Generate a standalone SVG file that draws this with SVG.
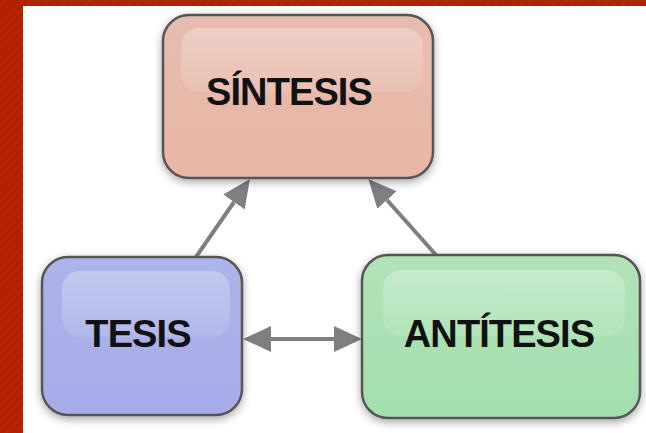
<svg xmlns="http://www.w3.org/2000/svg" width="646" height="433" viewBox="0 0 646 433">
  <defs>
    <pattern id="stripes" width="6" height="6" patternUnits="userSpaceOnUse" patternTransform="rotate(45)">
      <rect width="6" height="6" fill="#b82300"/>
      <rect width="3" height="6" fill="#ac2000"/>
    </pattern>
    <filter id="shadow" x="-15%" y="-15%" width="130%" height="135%">
      <feDropShadow dx="0" dy="3" stdDeviation="4" flood-color="#000" flood-opacity="0.35"/>
    </filter>
    <linearGradient id="gRed" x1="0" y1="0" x2="0" y2="1">
      <stop offset="0" stop-color="#e6bcb0"/>
      <stop offset="1" stop-color="#e9b6a4"/>
    </linearGradient>
    <linearGradient id="gBlue" x1="0" y1="0" x2="0" y2="1">
      <stop offset="0" stop-color="#adb4ea"/>
      <stop offset="1" stop-color="#a6ace8"/>
    </linearGradient>
    <linearGradient id="gGreen" x1="0" y1="0" x2="0" y2="1">
      <stop offset="0" stop-color="#b0e3b8"/>
      <stop offset="1" stop-color="#a5dfae"/>
    </linearGradient>
    <linearGradient id="gloss" x1="0" y1="0" x2="0" y2="1">
      <stop offset="0" stop-color="#fff" stop-opacity="0.28"/>
      <stop offset="1" stop-color="#fff" stop-opacity="0.1"/>
    </linearGradient>
    <marker id="head" viewBox="0 0 28 26" refX="0" refY="13" markerWidth="28" markerHeight="26" markerUnits="userSpaceOnUse" orient="auto-start-reverse">
      <path d="M0,0 L28,13 L0,26 z" fill="#7f7f7f"/>
    </marker>
    <style>
      .box { stroke: #555; stroke-width: 2.5; filter: url(#shadow); }
      .gloss { fill: url(#gloss); }
      .label { font-family: "Liberation Sans", Arial, sans-serif; font-weight: bold; font-size: 38px; fill: #111; text-anchor: middle; letter-spacing: -0.9px; }
      .conn { stroke: #7f7f7f; stroke-width: 4; fill: none; marker-end: url(#head); }
    </style>
  </defs>
  <rect width="646" height="433" fill="url(#stripes)"/>
  <rect x="23" y="6" width="623" height="427" fill="#fff"/>

  <g id="connectors">
    <path class="conn" d="M196,257 L234,202"/>
    <path class="conn" d="M437,256 L387,200"/>
    <path class="conn" d="M271,339 L334,339" style="marker-start:url(#head)"/>
  </g>

  <g id="sintesis">
    <rect class="box" x="163" y="15" width="270" height="163" rx="26" fill="url(#gRed)"/>
    <rect class="gloss" x="181" y="28" width="242" height="64" rx="18"/>
    <text class="label" x="289" y="105">SÍNTESIS</text>
  </g>

  <g id="tesis">
    <rect class="box" x="42" y="257" width="200" height="158" rx="26" fill="url(#gBlue)"/>
    <rect class="gloss" x="62" y="271" width="168" height="66" rx="18"/>
    <text class="label" x="138" y="347">TESIS</text>
  </g>

  <g id="antitesis">
    <rect class="box" x="362" y="255" width="278" height="163" rx="26" fill="url(#gGreen)"/>
    <rect class="gloss" x="383" y="270" width="242" height="66" rx="18"/>
    <text class="label" x="499" y="347">ANTÍTESIS</text>
  </g>
</svg>
